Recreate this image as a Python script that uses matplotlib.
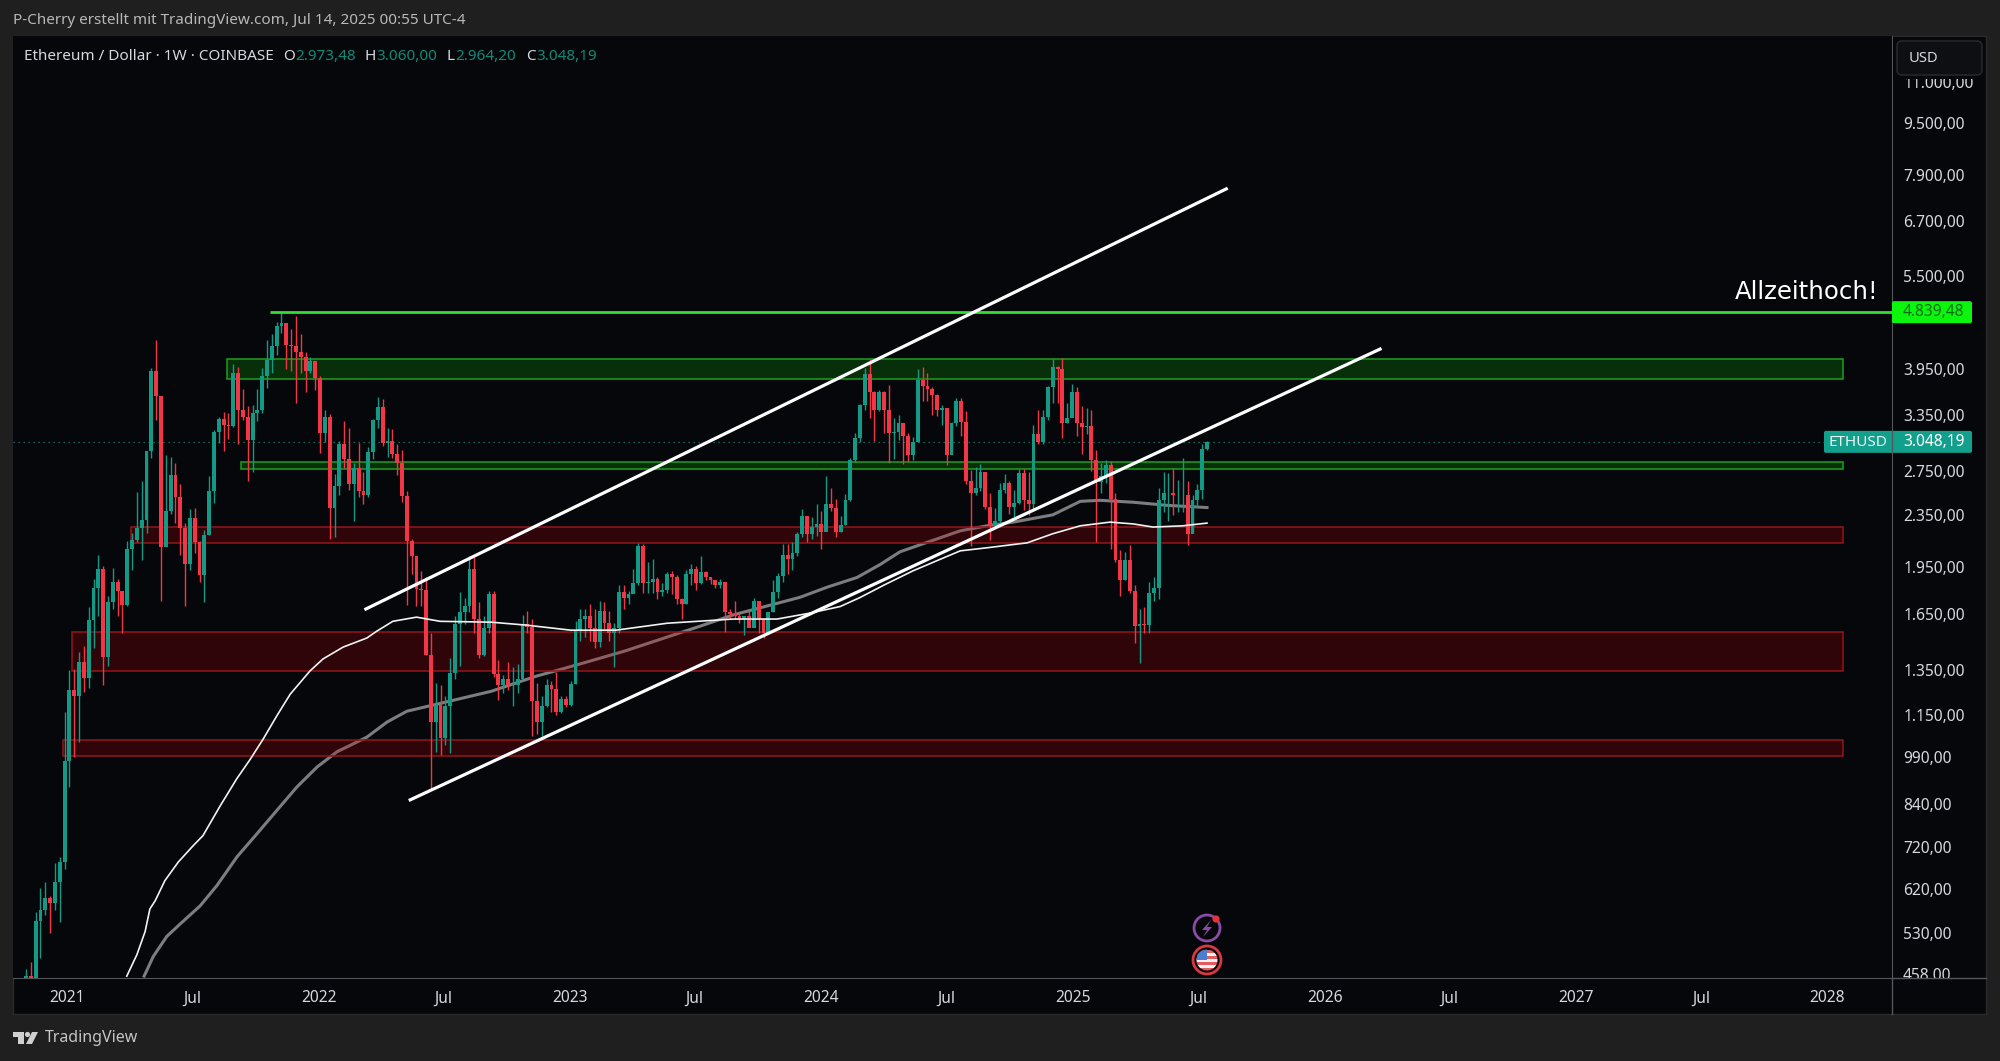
import datetime as dt
import numpy as np
import matplotlib
matplotlib.use("Agg")
import matplotlib.pyplot as plt
from matplotlib.patches import Rectangle, Circle, FancyBboxPatch, Polygon

plt.rcParams['font.family'] = ['Noto Sans', 'DejaVu Sans']

# weekly candles, first one is the week of 2 Nov 2020, last one 14 Jul 2025
first_open = 390
closes = [
    455, 448, 553, 575, 600, 590, 635, 682, 977,
    # 2021
    1260, 1230, 1390, 1314, 1615, 1810, 1935, 1416, 1725, 1850, 1790, 1705, 2080,
    2145, 2240, 2310, 2950, 3920, 3590, 2095, 2385, 2710, 2500, 2240, 1975, 2320,
    2130, 1895, 2190, 2555, 3160, 3310, 3240, 3225, 3890, 3410, 3330, 3070, 3380,
    3415, 3850, 4085, 4290, 4610, 4650, 4300, 4290, 4200, 4130, 3920, 4065, 3830,
    # 2022
    3150, 3330, 2410, 2600, 3030, 2870, 2620, 2780, 2560, 2520, 2940, 3290, 3450,
    3040, 3060, 2920, 2830, 2510, 2140, 2030, 1802, 1800, 1427, 1125, 1195, 1062,
    1190, 1337, 1590, 1665, 1700, 1936, 1620, 1425, 1570, 1770, 1335, 1280, 1310,
    1280, 1280, 1310, 1590, 1575, 1210, 1125, 1190, 1280, 1265, 1165, 1218, 1195,
    # 2023
    1285, 1555, 1620, 1640, 1570, 1495, 1670, 1600, 1545, 1570, 1785, 1745, 1775,
    1846, 2100, 1846, 1850, 1870, 1785, 1800, 1900, 1885, 1740, 1710, 1905, 1940,
    1845, 1915, 1885, 1865, 1830, 1850, 1665, 1650, 1640, 1620, 1640, 1570, 1730,
    1620, 1540, 1660, 1785, 1890, 2035, 2010, 2050, 2198, 2340, 2198, 2250, 2277,
    # 2024
    2210, 2440, 2410, 2210, 2270, 2480, 2860, 3090, 3480, 3880, 3640, 3420, 3640,
    3420, 3150, 3160, 3255, 3115, 2910, 3050, 3795, 3720, 3680, 3600, 3420, 3440,
    2910, 3255, 3530, 3270, 2655, 2540, 2590, 2740, 2420, 2260, 2300, 2570, 2630,
    2420, 2450, 2730, 2480, 2440, 3130, 3050, 3330, 3700, 3980, 3950, 3260, 3320, 3640,
    # 2025
    3260, 3210, 3230, 2860, 2640, 2700, 2810, 2490, 2000, 1860, 2000, 1790, 1580,
    1590, 1585, 1780, 1810, 2480, 2540, 2540, 2520, 2520, 2520, 2195, 2480, 2570,
    2973, 3048.19,
]
highs = [
    465, 478, 570, 622, 635, 605, 680, 695, 1165,
    # 2021
    1350, 1355, 1440, 1470, 1690, 1870, 2040, 1960, 1760, 1945, 1870, 1780, 2140,
    2200, 2550, 2650, 2950, 3970, 4380, 3580, 2910, 2890, 2830, 2620, 2280, 2400,
    2410, 2140, 2230, 2700, 3180, 3330, 3390, 3380, 4030, 3980, 3680, 3470, 3480,
    3680, 3970, 4380, 4470, 4670, 4868, 4600, 4560, 4780, 4480, 4200, 4130, 3900,
    # 2022
    3850, 3410, 3370, 2720, 3060, 3280, 3200, 2830, 3040, 2740, 2990, 3310, 3580,
    3550, 3200, 3190, 3030, 2960, 2560, 2160, 2030, 1925, 1880, 1540, 1290, 1280,
    1230, 1412, 1640, 1785, 1745, 2030, 2020, 1725, 1640, 1790, 1790, 1400, 1330,
    1390, 1365, 1380, 1645, 1670, 1620, 1290, 1230, 1310, 1300, 1340, 1230, 1230,
    # 2023
    1300, 1610, 1680, 1680, 1710, 1680, 1730, 1720, 1670, 1600, 1830, 1830, 1790,
    1935, 2126, 2115, 1990, 2005, 1880, 1840, 1920, 1925, 1895, 1745, 1930, 1975,
    1960, 2030, 1925, 1885, 1865, 1870, 1850, 1680, 1730, 1650, 1640, 1670, 1750,
    1730, 1620, 1660, 1860, 1910, 2115, 2115, 2130, 2210, 2397, 2340, 2330, 2440,
    # 2024
    2380, 2700, 2590, 2490, 2340, 2530, 2880, 3150, 3490, 3960, 4090, 3660, 3670,
    3660, 3730, 3320, 3350, 3265, 3150, 3100, 3950, 3975, 3890, 3700, 3620, 3480,
    3420, 3270, 3560, 3560, 3400, 2760, 2790, 2820, 2740, 2540, 2410, 2630, 2720,
    2650, 2570, 2770, 2770, 2740, 3240, 3420, 3420, 3720, 4090, 4000, 4110, 3500, 3740,
    # 2025
    3700, 3470, 3440, 3420, 2960, 2830, 2860, 2850, 2540, 2070, 2060, 2110, 1830,
    1680, 1690, 1850, 1880, 2590, 2740, 2730, 2780, 2657, 2880, 2650, 2520, 2620,
    3030, 3060,
]
lows = [
    380, 430, 440, 485, 565, 530, 575, 550, 665,
    # 2021
    890, 990, 1044, 1250, 1270, 1460, 1640, 1283, 1370, 1680, 1640, 1540, 1700,
    1930, 2130, 2000, 2200, 2880, 3300, 1727, 2150, 2360, 2280, 2040, 1700, 1930,
    2050, 1850, 1720, 2190, 2450, 3040, 2950, 3080, 3210, 3020, 3300, 2650, 2740,
    3280, 3380, 3690, 3900, 4150, 4500, 3950, 3920, 3500, 3900, 3640, 3900, 3670,
    # 2022
    2930, 3050, 2160, 2170, 2520, 2780, 2570, 2300, 2500, 2440, 2500, 2870, 3200,
    3000, 2890, 2880, 2710, 2460, 1705, 1900, 1700, 1700, 1425, 881, 1010, 1000,
    1035, 1005, 1310, 1370, 1590, 1660, 1545, 1412, 1420, 1540, 1320, 1216, 1245,
    1260, 1190, 1245, 1340, 1545, 1070, 1075, 1070, 1185, 1165, 1150, 1160, 1185,
    # 2023
    1190, 1285, 1500, 1520, 1500, 1460, 1465, 1560, 1500, 1368, 1540, 1680, 1710,
    1780, 1830, 1780, 1780, 1780, 1740, 1760, 1780, 1770, 1710, 1620, 1710, 1830,
    1800, 1835, 1860, 1835, 1810, 1810, 1550, 1620, 1620, 1600, 1530, 1580, 1580,
    1540, 1515, 1555, 1660, 1750, 1850, 1900, 1930, 2030, 2170, 2130, 2160, 2180,
    # 2024
    2080, 2240, 2380, 2170, 2210, 2270, 2470, 2840, 3050, 3420, 3320, 3060, 3400,
    3150, 2830, 2870, 3070, 2820, 2845, 2860, 3050, 3530, 3520, 3350, 3340, 3240,
    2810, 2960, 3220, 3110, 2625, 2100, 2520, 2560, 2400, 2150, 2250, 2260, 2540,
    2360, 2330, 2440, 2390, 2350, 2400, 3020, 3020, 3300, 3500, 3500, 3090, 3260, 3330,
    # 2025
    3110, 2920, 3130, 2750, 2130, 2540, 2630, 2080, 1990, 1760, 1860, 1780, 1490,
    1385, 1540, 1540, 1730, 1740, 2370, 2300, 2350, 2370, 2370, 2110, 2200, 2420,
    2490, 2964.2,
]

# moving averages, week number (0 = first candle) and price
ma_white_weeks = [20.9, 23, 24.7, 25.7, 26.8, 28.8, 31.6, 34.7, 36.7, 40.2, 43.7, 46.5, 49.2, 52, 54.8, 58.9,
                  61.6, 65.8, 70.7, 72.8, 76.1, 81, 85.9, 96.5, 103.9, 113, 122.4, 133, 146.7, 155.8,
                  162.7, 168.9, 173, 178, 184, 193.8, 199.4, 207.7, 213, 218.7, 224.9, 229.7, 233.8, 240, 245]
ma_white = [454, 490, 532, 577, 594, 638, 682, 723, 749, 831, 917, 983, 1057, 1147, 1240, 1347,
            1406, 1467, 1515, 1553, 1608, 1632, 1608, 1603, 1586, 1558, 1558, 1597, 1621, 1621,
            1656, 1695, 1750, 1830, 1925, 2067, 2090, 2127, 2197, 2260, 2290, 2275, 2250, 2260, 2282]
ma_gray_weeks = [24.5, 26.4, 29.2, 32, 36.1, 39.6, 43.8, 47.9, 52, 56.2, 60.4, 64.5, 70.7, 74.9, 79, 83.8,
                 87.1, 96.5, 105.8, 114.9, 124.3, 139.8, 146.7, 160.6, 166.2, 172.4, 177.2, 181.3, 186.1,
                 193.8, 199.4, 204.8, 213, 218.7, 222.8, 229.7, 236.7, 245]
ma_gray = [454, 487, 523, 547, 583, 627, 695, 754, 819, 891, 957, 1010, 1064, 1123, 1167, 1190,
           1206, 1253, 1322, 1381, 1447, 1580, 1645, 1752, 1816, 1880, 1969, 2060, 2120,
           2220, 2260, 2290, 2350, 2466, 2475, 2458, 2431, 2412]

# hand drawn lines and zones
channel_upper_weeks, channel_upper = [70.5, 249], [1680, 7510]
channel_lower_weeks, channel_lower = [79.7, 280.9], [851, 4243]
ath_price = 4839.48
ath_start = 50.6
last_price = 3048.19
zone_end = 377
green_zones = [(41.7, 3818, 4101), (44.6, 2772, 2841)]
red_zones = [(21.8, 2122, 2250), (9.5, 1347, 1547), (7.6, 995, 1053)]

y_ticks = [11000, 9500, 7900, 6700, 5500, 3950, 3350, 2750, 2350, 1950, 1650, 1350, 1150, 990, 840, 720, 620, 530, 458]
y_labels = ["11.000,00", "9.500,00", "7.900,00", "6.700,00", "5.500,00", "3.950,00", "3.350,00", "2.750,00",
            "2.350,00", "1.950,00", "1.650,00", "1.350,00", "1.150,00", "990,00", "840,00", "720,00", "620,00",
            "530,00", "458,00"]
x_tick_dates = [dt.date(2021, 1, 1), dt.date(2021, 7, 1), dt.date(2022, 1, 1), dt.date(2022, 7, 1),
                dt.date(2023, 1, 1), dt.date(2023, 7, 1), dt.date(2024, 1, 1), dt.date(2024, 7, 1),
                dt.date(2025, 1, 1), dt.date(2025, 7, 1), dt.date(2026, 1, 1), dt.date(2026, 7, 1),
                dt.date(2027, 1, 1), dt.date(2027, 7, 1), dt.date(2028, 1, 1)]
x_labels = ["2021", "Jul", "2022", "Jul", "2023", "Jul", "2024", "Jul", "2025", "Jul", "2026", "Jul", "2027", "Jul", "2028"]

BG_OUT = "#1f1f1f"
BG = "#05070a"
UP = "#129a86"
DOWN = "#f23645"
AXIS = "#54565b"
TXT = "#d6d8de"

W, H = 2000, 1061
fig = plt.figure(figsize=(20, 10.61), dpi=100, facecolor=BG_OUT)

# dark panel behind everything
back = fig.add_axes([0, 0, 1, 1], zorder=-1)
back.set_xlim(0, W); back.set_ylim(H, 0); back.axis("off")
back.add_patch(Rectangle((13, 36), 1973, 978, fc=BG, ec="#2b2b2c", lw=1))

ax = fig.add_axes([13 / W, 1 - 978 / H, (1892 - 13) / W, (978 - 36) / H], zorder=1)
ax.set_facecolor(BG)
ax.set_yscale("log")
ax.set_xlim(-2.7, 387.1)
ax.set_ylim(451, 12950)

weeks = np.arange(len(closes))
opens = np.array([first_open] + closes[:-1], dtype=float)
closes_a = np.array(closes, dtype=float)
is_up = closes_a >= opens
colors = [UP if u else DOWN for u in is_up]

ax.plot(ma_gray_weeks, ma_gray, color="#7d7d7f", lw=2.2, zorder=1.5)
ax.plot(ma_white_weeks, ma_white, color="#f2f2f2", lw=1.2, zorder=4)

for start, low, high in green_zones:
    ax.add_patch(Rectangle((start, low), zone_end - start, high - low, fc=(0.05, 0.6, 0.05, 0.28),
                           ec="#1f9f1f", lw=1.1, zorder=2))
for start, low, high in red_zones:
    ax.add_patch(Rectangle((start, low), zone_end - start, high - low, fc=(0.75, 0.0, 0.03, 0.23),
                           ec="#94151a", lw=1.1, zorder=2))

ax.vlines(weeks, lows, highs, colors=colors, lw=1.0, zorder=3)
ax.bar(weeks, np.maximum(np.abs(closes_a - opens), 1), bottom=np.minimum(opens, closes_a),
       width=0.8, color=colors, lw=0, zorder=3)

ax.axhline(last_price, color="#1c7f74", lw=0.9, ls=(0, (1, 3)), zorder=1)
ax.plot([ath_start, 387.1], [ath_price, ath_price], color="#2fe02f", lw=2.0, zorder=6, solid_capstyle="butt")
ax.plot(channel_upper_weeks, channel_upper, color="white", lw=2.3, zorder=7)
ax.plot(channel_lower_weeks, channel_lower, color="white", lw=2.3, zorder=7)

# axes
for s in ["top", "left"]:
    ax.spines[s].set_visible(False)
ax.spines["right"].set_color(AXIS)
ax.spines["bottom"].set_color(AXIS)
ax.yaxis.tick_right()
ax.set_yticks(y_ticks)
ax.set_yticklabels(y_labels)
ax.minorticks_off()
ax.tick_params(axis="y", length=0, pad=8, labelcolor=TXT, labelsize=11.2)
week0 = dt.date(2020, 11, 2)
ax.set_xticks([(d - week0).days / 7 for d in x_tick_dates])
ax.set_xticklabels(x_labels)
ax.tick_params(axis="x", length=0, pad=9, labelcolor=TXT, labelsize=11.2)
for lab, txt in zip(ax.get_xticklabels(), x_labels):
    if txt != "Jul":
        lab.set_fontweight("bold")

# everything on top is placed in pixels
deco = fig.add_axes([0, 0, 1, 1], zorder=5)
deco.set_xlim(0, W); deco.set_ylim(H, 0); deco.axis("off"); deco.patch.set_alpha(0)


def price_px(p):
    return H - ax.transData.transform((0, p))[1]


# hide the cut off parts of the first and last price label
deco.add_patch(Rectangle((1893, 37), 92, 42, fc=BG, lw=0))
deco.add_patch(Rectangle((1893, 979), 92, 34, fc=BG, lw=0))
deco.plot([1892, 1986], [978, 978], color=AXIS, lw=1)
deco.plot([1892, 1892], [978, 1014], color=AXIS, lw=1)
deco.add_patch(FancyBboxPatch((1899, 43), 81, 30, boxstyle="round,pad=2,rounding_size=5", fc="#0e0f12", ec="#292b2f", lw=1))
deco.text(1909, 58, "USD", color=TXT, fontsize=10.6, va="center", ha="left")

# price tags
y_ath = price_px(ath_price)
deco.add_patch(FancyBboxPatch((1893, y_ath - 10), 78, 20, boxstyle="round,pad=1,rounding_size=2", fc="#0cf50c", lw=0))
deco.text(1903, y_ath, "4.839,48", color="#0a6e12", fontsize=11.2, va="center", ha="left")
y_last = price_px(last_price)
deco.add_patch(FancyBboxPatch((1825, y_last - 10), 146, 20, boxstyle="round,pad=1,rounding_size=2", fc="#12a08d", lw=0))
deco.plot([1892, 1892], [y_last - 11, y_last + 11], color=AXIS, lw=1)
deco.text(1858, y_last + 1, "ETHUSD", color="#e8f5f2", fontsize=11, va="center", ha="center")
deco.text(1903, y_last, "3.048,19", color="white", fontsize=11.2, va="center", ha="left")
deco.text(1878, 292, "Allzeithoch!", color="white", fontsize=17.6, va="center", ha="right", family="DejaVu Sans")

# header and footer
deco.text(13, 20, "P-Cherry erstellt mit TradingView.com, Jul 14, 2025 00:55 UTC-4", color="#b8b8b8", fontsize=11, va="center")
deco.text(24, 56, "Ethereum / Dollar · 1W · COINBASE", color=TXT, fontsize=11, va="center")
for x_k, key, x_v, val in [(283.5, "O", 295, "2.973,48"), (365, "H", 376, "3.060,00"),
                           (446, "L", 455, "2.964,20"), (526, "C", 536, "3.048,19")]:
    deco.text(x_k, 56, key, color=TXT, fontsize=11, va="center")
    deco.text(x_v, 56, val, color="#0f8a78", fontsize=11, va="center")

# tradingview logo
logo = "#d0d0d0"
deco.add_patch(Polygon([(13, 1032), (24, 1032), (24, 1044), (18, 1044), (18, 1037), (13, 1037)], fc=logo, lw=0))
deco.add_patch(Circle((27.5, 1034.5), 2.6, fc=logo, lw=0))
deco.add_patch(Polygon([(32, 1032), (38, 1032), (32, 1044), (26, 1044)], fc=logo, lw=0))
deco.text(45, 1038, "TradingView", color="#c4c4c4", fontsize=11.5, va="center")

# event icons under the last candles
purple = "#8d4aa6"
deco.add_patch(Circle((1207, 928), 13, fc="none", ec=purple, lw=2))
deco.add_patch(Polygon([(1211, 920), (1202, 930), (1207, 930), (1203, 937), (1212, 927), (1207, 927)], fc=purple, lw=0))
deco.add_patch(Circle((1216, 919), 3.6, fc="#e5323c", lw=0))
deco.add_patch(Circle((1207, 960), 14, fc=BG, ec="#d8383e", lw=2))
flag_clip = Circle((1207, 960), 10.5, transform=deco.transData)
for i in range(7):
    r = deco.add_patch(Rectangle((1196, 949.5 + i * 3), 22, 3, fc="#e25b5f" if i % 2 == 0 else "#f2f2f2", lw=0))
    r.set_clip_path(flag_clip)
r = deco.add_patch(Rectangle((1196, 949), 11, 10.5, fc="#4a7fd0", lw=0))
r.set_clip_path(flag_clip)

assert len(closes) == len(highs) == len(lows)
fig.savefig("out.png", dpi=100, facecolor=BG_OUT)
